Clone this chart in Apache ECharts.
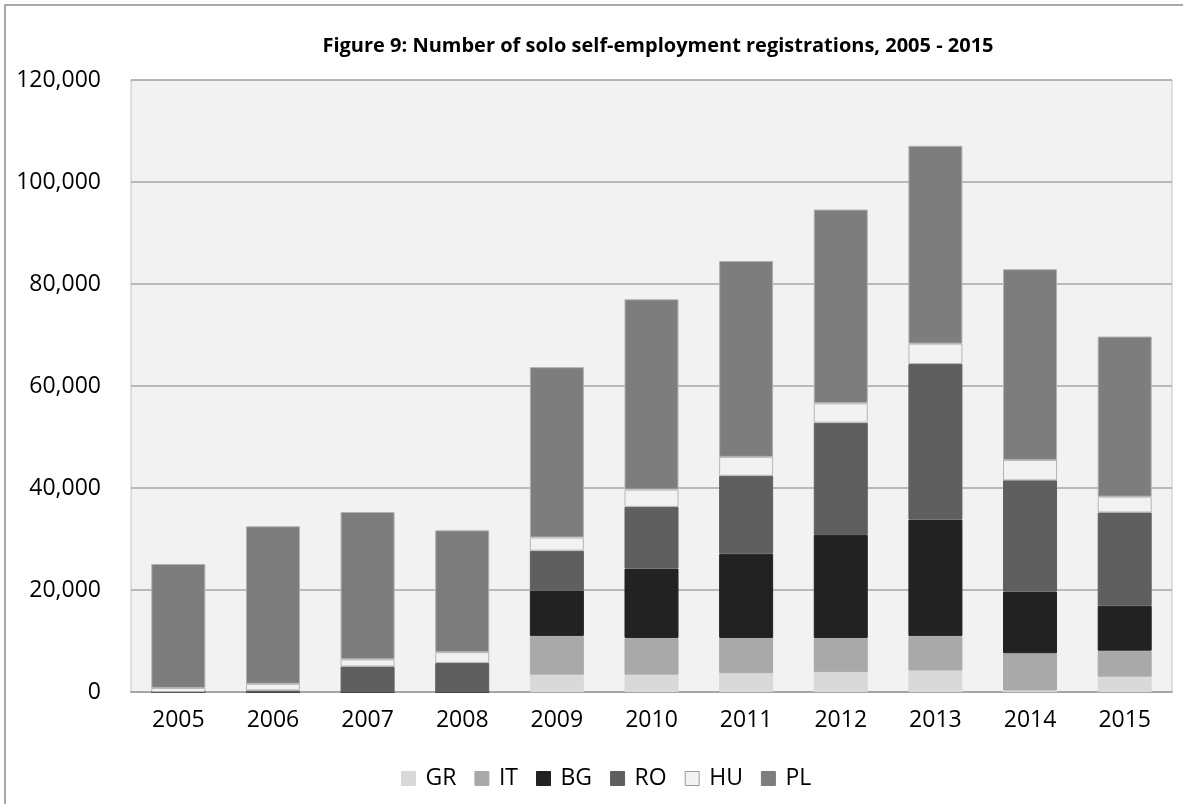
<!DOCTYPE html>
<html>
<head>
<meta charset="utf-8">
<title>Solo self-employment registrations, 2005 - 2015</title>
<script src="https://cdn.jsdelivr.net/npm/echarts@6/dist/echarts.min.js"></script>
<style>
  html, body { margin: 0; padding: 0; background: #ffffff; }
  #chart { width: 1183px; height: 804px; }
</style>
</head>
<body>
<div id="chart"></div>
<script>
// Registrations per year, stacked by country of origin
const years = ['2005', '2006', '2007', '2008', '2009', '2010', '2011', '2012', '2013', '2014', '2015'];
const GR = [0, 0, 0, 0, 3400, 3400, 3700, 3900, 4200, 300, 3000];
const IT = [0, 0, 0, 0, 7600, 7200, 6900, 6700, 6800, 7300, 5100];
const BG = [0, 0, 0, 0, 8900, 13600, 16500, 20200, 22800, 12100, 8800];
const RO = [0, 300, 5000, 5700, 7800, 12100, 15300, 22000, 30500, 21800, 18300];
const HU = [800, 1300, 1400, 2100, 2600, 3400, 3700, 3800, 4000, 4000, 3100];
const PL = [24300, 30900, 28900, 23900, 33400, 37300, 38400, 38000, 38800, 37400, 31400];

const yTicks = [0, 20000, 40000, 60000, 80000, 100000, 120000];

const TITLE = 'Figure 9: Number of solo self-employment registrations, 2005 - 2015';
const FONT = '"Open Sans", "Liberation Sans", sans-serif';

const seriesDefs = [
  { name: 'GR', data: GR, color: '#d9d9d9', border: '#d9d9d9' },
  { name: 'IT', data: IT, color: '#a9a9a9', border: '#a9a9a9' },
  { name: 'BG', data: BG, color: '#222222', border: '#222222' },
  { name: 'RO', data: RO, color: '#5f5f5f', border: '#5f5f5f' },
  { name: 'HU', data: HU, color: '#f2f2f2', border: '#b5b5b5' },
  { name: 'PL', data: PL, color: '#7d7d7d', border: '#b0b0b0' }
];

const chart = echarts.init(document.getElementById('chart'), null, { renderer: 'canvas' });

chart.setOption({
  animation: false,
  backgroundColor: '#ffffff',
  graphic: [
    {
      // outer chart frame
      type: 'rect',
      shape: { x: 5, y: 5, width: 1220, height: 840 },
      style: { fill: 'none', stroke: '#8c8c8c', lineWidth: 1.5 },
      silent: true,
      z: -10
    },
    {
      // chart title, centred over the plot area
      type: 'text',
      x: 658,
      y: 46,
      style: {
        text: TITLE,
        textAlign: 'center',
        textVerticalAlign: 'middle',
        fontFamily: FONT,
        fontWeight: 'bold',
        fontSize: 20,
        fill: '#000000'
      },
      silent: true
    }
  ],
  legend: {
    bottom: 9,
    left: 396,
    itemWidth: 14,
    itemHeight: 14,
    itemGap: 18,
    icon: 'rect',
    textStyle: { fontFamily: FONT, fontSize: 23, color: '#000000', padding: [0, 0, 0, 5] },
    data: seriesDefs.map(s => ({
      name: s.name,
      itemStyle: { color: s.color, borderColor: s.name === 'HU' ? '#9a9a9a' : s.color, borderWidth: 1 }
    }))
  },
  grid: {
    left: 131,
    right: 11,
    top: 80,
    bottom: 112,
    show: true,
    backgroundColor: '#f2f2f2',
    borderColor: '#c4c4c4',
    borderWidth: 1
  },
  xAxis: {
    type: 'category',
    data: years,
    axisLine: { show: true, lineStyle: { color: '#a6a6a6', width: 2 } },
    axisTick: { show: false },
    axisLabel: { fontFamily: FONT, fontSize: 23, color: '#000000', margin: 17 }
  },
  yAxis: {
    type: 'value',
    min: yTicks[0],
    max: yTicks[yTicks.length - 1],
    interval: yTicks[1] - yTicks[0],
    axisLine: { show: false },
    axisTick: { show: false },
    splitLine: { show: true, lineStyle: { color: '#a6a6a6', width: 1.5 } },
    axisLabel: {
      fontFamily: FONT,
      fontSize: 23,
      color: '#000000',
      margin: 30,
      formatter: v => v.toLocaleString('en-US')
    }
  },
  series: seriesDefs.map(s => ({
    name: s.name,
    type: 'bar',
    stack: 'total',
    barWidth: 54,
    data: s.data,
    itemStyle: { color: s.color, borderColor: s.border, borderWidth: 1 },
    emphasis: { disabled: true }
  }))
});
</script>
</body>
</html>
